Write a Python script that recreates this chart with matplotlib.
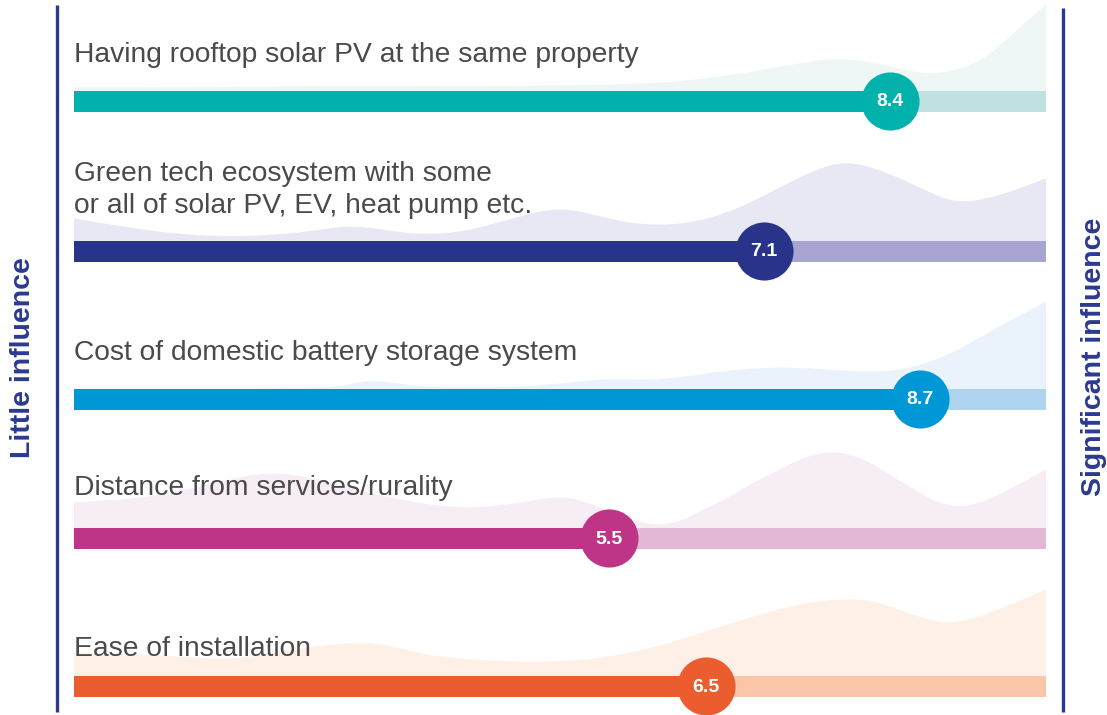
import matplotlib
matplotlib.use("Agg")
import matplotlib.pyplot as plt
from matplotlib.path import Path
from matplotlib.patches import PathPatch

plt.rcParams['font.family'] = ['Liberation Sans', 'DejaVu Sans']

# data
labels = [
    "Having rooftop solar PV at the same property",
    "Green tech ecosystem with some\nor all of solar PV, EV, heat pump etc.",
    "Cost of domestic battery storage system",
    "Distance from services/rurality",
    "Ease of installation",
]
scores = [8.4, 7.1, 8.7, 5.5, 6.5]

# background response distributions (score position, relative height)
dist_x = [
    [0, 1, 2, 3, 4, 5, 6, 6.5, 7, 7.5, 7.8, 8.2, 8.6, 8.9, 9.3, 9.6, 9.8, 10],
    [0, 0.5, 1, 1.5, 2, 2.5, 2.8, 3.2, 3.5, 4, 4.5, 5, 5.5, 5.8, 6.3, 6.8, 7.3, 7.7, 8, 8.4, 8.8, 9.1, 9.5, 10],
    [0, 2.5, 2.8, 3.0, 3.3, 3.6, 4.5, 5.0, 5.5, 5.9, 6.3, 6.7, 7.3, 8.0, 8.5, 9.0, 9.5, 10],
    [0, 0.8, 1.5, 2, 2.5, 3, 3.5, 4, 4.5, 5, 5.3, 5.7, 6.1, 6.6, 7.2, 7.7, 8.1, 8.5, 9, 9.4, 10],
    [0, 1, 1.6, 2.2, 3, 3.5, 3.7, 4.5, 5.3, 6, 6.8, 7.5, 8, 8.3, 8.7, 9, 9.4, 10],
]
dist_h = [
    [3, 3, 4, 5, 4, 5, 7, 12, 19, 28, 32, 29, 19, 16, 27, 51, 69, 86],
    [22, 14, 7, 4, 5, 10, 15, 11, 6, 8, 22, 34, 22, 16, 16, 30, 55, 74, 79, 67, 48, 37, 44, 62],
    [0, 0, 3, 8, 6, 1, 1, 5, 10, 8, 12, 18, 22, 17, 17, 33, 61, 87],
    [25, 30, 46, 56, 49, 35, 25, 19, 23, 32, 25, 8, 0, 23, 56, 78, 71, 46, 18, 26, 58],
    [23, 20, 15, 26, 35, 24, 19, 13, 15, 28, 54, 73, 77, 73, 58, 51, 61, 86],
]

dark = ['#00b1ac', '#28348a', '#0097d7', '#be3486', '#eb5c2e']
light = ['#bfe1df', '#a7a4d1', '#afd4f0', '#e3b8d6', '#f9c6a9']
shade = ['#eef7f6', '#e8e8f5', '#eaf3fb', '#f7edf5', '#fef0e7']
navy = '#2b3990'

# layout (pixel rows)
row_y = [101, 251, 399, 538, 686]
label_y = [62, 213, 360, 495, 656]
bar_h = 21

fig = plt.figure(figsize=(11.07, 7.15), dpi=100)
ax = fig.add_axes([0, 0, 1, 1])
ax.set_xlim(-74 / 97.2, 1033 / 97.2)
ax.set_ylim(715, 0)
ax.axis('off')


def smooth_area(xs, tops, base):
    pts = list(zip(xs, tops))
    verts = [(xs[0], base), pts[0]]
    codes = [Path.MOVETO, Path.LINETO]
    mid = lambda a, b: ((a[0] + b[0]) / 2, (a[1] + b[1]) / 2)
    verts.append(mid(pts[0], pts[1]))
    codes.append(Path.LINETO)
    for i in range(1, len(pts) - 1):
        verts += [pts[i], mid(pts[i], pts[i + 1])]
        codes += [Path.CURVE3, Path.CURVE3]
    verts += [pts[-1], (xs[-1], base), (xs[0], base)]
    codes += [Path.LINETO, Path.LINETO, Path.CLOSEPOLY]
    return Path(verts, codes)


for i in range(len(labels)):
    yc = row_y[i]
    top = yc - bar_h / 2
    tops = [top - h for h in dist_h[i]]
    ax.add_patch(PathPatch(smooth_area(dist_x[i], tops, yc), facecolor=shade[i],
                           edgecolor='none', zorder=1))
    ax.barh(yc, 10, left=0, height=bar_h, color=light[i], zorder=2)
    ax.barh(yc, scores[i], left=0, height=bar_h, color=dark[i], zorder=3)
    ax.scatter([scores[i]], [yc], s=1750, color=dark[i], zorder=4, linewidths=0)
    ax.text(scores[i], yc + 1, f"{scores[i]:.1f}", color='white', fontsize=14,
            fontweight='bold', ha='center', va='center', zorder=5)
    ax.text(0, label_y[i], labels[i], color='#4a4a4a', fontsize=20.3,
            ha='left', va='baseline', linespacing=1.32, zorder=5)

# side axes
xl = (57 - 74) / 97.2
xr = (1063 - 74) / 97.2
ax.plot([xl, xl], [5, 712], color=navy, lw=2.4, solid_capstyle='butt')
ax.plot([xr, xr], [8, 712], color=navy, lw=2.4, solid_capstyle='butt')
ax.text((23 - 74) / 97.2, 358, "Little influence", rotation=90, color=navy,
        fontsize=20.5, fontweight='bold', ha='center', va='center')
ax.text((1094 - 74) / 97.2, 357, "Significant influence", rotation=90, color=navy,
        fontsize=20.5, fontweight='bold', ha='center', va='center')

fig.savefig("out.png", dpi=100)
